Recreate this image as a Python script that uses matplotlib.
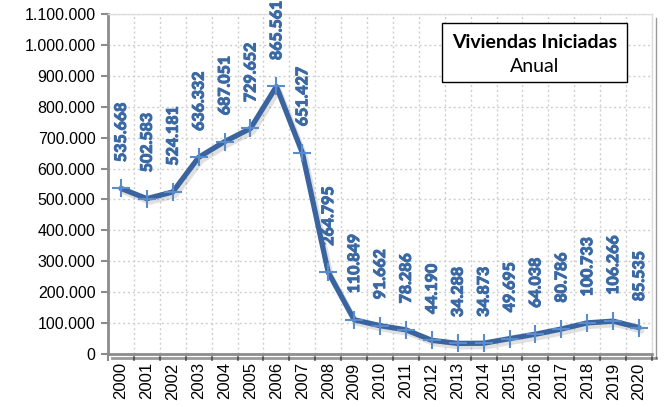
import matplotlib
matplotlib.use("Agg")
import matplotlib.pyplot as plt
import matplotlib.patheffects as pe
from matplotlib.patches import Rectangle
from matplotlib.ticker import FuncFormatter, FixedLocator, MultipleLocator
import numpy as np

years = ["2000", "2001", "2002", "2003", "2004", "2005", "2006", "2007", "2008", "2009", "2010",
         "2011", "2012", "2013", "2014", "2015", "2016", "2017", "2018", "2019", "2020"]
values = [535668, 502583, 524181, 636332, 687051, 729652, 865561, 651427, 264795, 110849, 91662,
          78286, 44190, 34288, 34873, 49695, 64038, 80786, 100733, 106266, 85535]

title_main = "Viviendas Iniciadas"
title_sub = "Anual"

W, H = 666, 407
fig = plt.figure(figsize=(W / 100, H / 100), dpi=100)
ax = fig.add_axes([108 / W, 53 / H, 544 / W, 340 / H])

x = np.arange(len(values))
y = np.array(values, dtype=float)

line_color = "#3a64a0"
ax.plot(x, y, color=line_color, lw=3.8, solid_joinstyle="round", solid_capstyle="round", zorder=3,
        path_effects=[pe.SimpleLineShadow(offset=(2, -2.5), shadow_color="#000000", alpha=0.12, rho=0.3),
                      pe.Normal()])
ax.plot(x, y, linestyle="none", marker="+", markersize=13, mew=1.5, color="#5a8ccc", zorder=4)

label_color = "#3b69a4"
for xi, yi in zip(x, y):
    ax.annotate(f"{int(yi):,}".replace(",", "."), (xi, yi), xytext=(0, 19), textcoords="offset points",
                rotation=90, ha="center", va="bottom", color=label_color, fontsize=11.5,
                fontweight="black", family="Lato", zorder=5, annotation_clip=False,
                path_effects=[pe.withStroke(linewidth=0.7, foreground=label_color)])

ax.set_xlim(-0.5, len(values) - 0.5)
ax.set_ylim(0, 1100000)
ax.yaxis.set_major_locator(MultipleLocator(100000))
ax.yaxis.set_major_formatter(FuncFormatter(lambda v, p: f"{int(v):,}".replace(",", ".")))
ax.set_xticks(x)
ax.set_xticklabels(years, rotation=90, fontsize=12, family="Liberation Sans")
ax.xaxis.set_minor_locator(FixedLocator(np.arange(-0.5, len(values), 1)))
ax.tick_params(axis="x", which="major", length=0, pad=6)
ax.tick_params(axis="x", which="minor", length=5, width=1.5, color="#8c8c8c")
ax.tick_params(axis="y", length=5, width=1.5, color="#8c8c8c", labelsize=11.5, pad=4)
for lab in ax.get_yticklabels():
    lab.set_family("Liberation Sans")

ax.grid(True, which="major", axis="y", linestyle=(0, (1.5, 2)), color="#cfcfcf", lw=1)
ax.grid(True, which="minor", axis="x", linestyle=(0, (1.5, 2)), color="#cfcfcf", lw=1)
ax.set_axisbelow(True)

for s in ("left", "bottom"):
    ax.spines[s].set_color("#8c8c8c")
    ax.spines[s].set_linewidth(2)
for s in ("right", "top"):
    ax.spines[s].set_color("#dcdcdc")
    ax.spines[s].set_linewidth(1)
ax.spines["right"].set_path_effects([pe.SimpleLineShadow(offset=(3, -3), alpha=0.4), pe.Normal()])
ax.spines["bottom"].set_path_effects([pe.SimpleLineShadow(offset=(3, -3), alpha=0.4), pe.Normal()])

fig.patches.append(Rectangle((442 / W, 1 - 82 / H), 185 / W, 59 / H, transform=fig.transFigure,
                             facecolor="white", edgecolor="black", lw=1, zorder=10))
fig.text(535 / W, 1 - 42 / H, title_main, ha="center", va="center", fontsize=14,
         fontweight="bold", family="Lato", zorder=11)
fig.text(535 / W, 1 - 66 / H, title_sub, ha="center", va="center", fontsize=14,
         family="Lato", zorder=11)

fig.savefig("out.png", dpi=100)
